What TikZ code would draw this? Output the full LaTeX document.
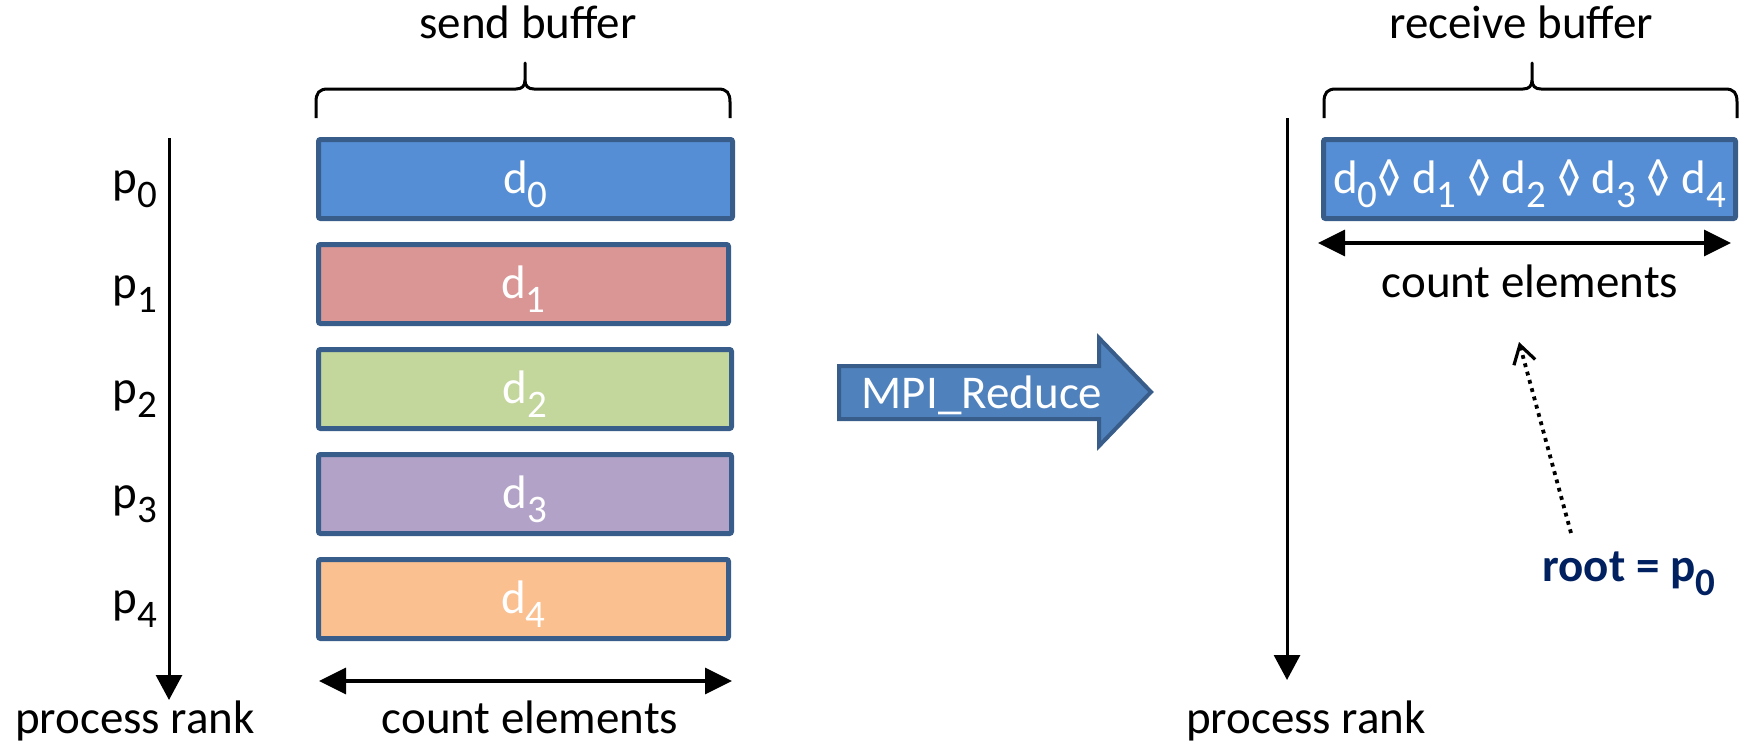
\documentclass[tikz,border=0pt]{standalone}
\usepackage{fontspec}
\setmainfont{Carlito}
\usetikzlibrary{arrows.meta}

\definecolor{edgeblue}{HTML}{385D8A}
\definecolor{fillblue}{HTML}{558ED5}
\definecolor{arrowblue}{HTML}{4F81BD}
\definecolor{fillred}{HTML}{D99694}
\definecolor{fillgreen}{HTML}{C3D69B}
\definecolor{fillpurple}{HTML}{B3A2C7}
\definecolor{fillorange}{HTML}{FAC090}
\definecolor{rootnavy}{HTML}{002060}

% lowered index digit
\newcommand\idx[1]{\raisebox{-0.3em}{\fontsize{19.5}{20}\selectfont #1}}

\begin{document}
\begin{tikzpicture}[x=0.5pt,y=-0.5pt,
  lbl/.style={font=\fontsize{23.5}{28}\selectfont, inner sep=0pt},
  buf/.style={draw=edgeblue, line width=2.5pt, rounded corners=1pt, inner sep=0pt,
    text=white, font=\fontsize{23.5}{28}\selectfont,
    minimum height=39.5pt, text height=16pt, text depth=2pt},
  axis/.style={line width=1.5pt, -{Triangle[length=12.5pt,width=13pt]}},
  span/.style={line width=1.75pt, {Triangle[length=13.5pt,width=13pt]}-{Triangle[length=13.5pt,width=13pt]}},
  bracket/.style={line width=1.5pt, line join=round},
  rootptr/.style={line width=1.9pt, dash pattern=on 1.9pt off 2.4pt,
    -{Straight Barb[length=9pt,width=11pt,line width=1.6pt]}},
]
\useasboundingbox (0,0) rectangle (1743,744);

% ---------- send side ----------
\node[lbl, anchor=base] (sendlbl) at (528,39) {send buffer};
\draw[bracket] (316,118) -- (316,102) .. controls (316,93) and (319,89) .. (328,89)
  -- (516,89) .. controls (522,89) and (525,86) .. (525,80) -- (525,63)
  -- (525,80) .. controls (525,86) and (528,89) .. (534,89)
  -- (718,89) .. controls (727,89) and (730,93) .. (730,102) -- (730,118);

\node[buf, fill=fillblue,   minimum width=207pt]   (d0) at (525.5,179) {d\idx{0}};
\node[buf, fill=fillred,    minimum width=205pt]   (d1) at (523.5,284) {d\idx{1}};
\node[buf, fill=fillgreen,  minimum width=206.5pt] (d2) at (525,389)   {d\idx{2}};
\node[buf, fill=fillpurple, minimum width=206.5pt] (d3) at (525,494)   {d\idx{3}};
\node[buf, fill=fillorange, minimum width=205pt]   (d4) at (523.5,599) {d\idx{4}};

\node[lbl, anchor=base west] (p0) at (112,193) {p\idx{0}};
\node[lbl, anchor=base west] (p1) at (112,298) {p\idx{1}};
\node[lbl, anchor=base west] (p2) at (112,403) {p\idx{2}};
\node[lbl, anchor=base west] (p3) at (112,508) {p\idx{3}};
\node[lbl, anchor=base west] (p4) at (112,613) {p\idx{4}};

\coordinate (ranktopL) at (169,138);
\coordinate (rankendL) at (169,700);
\draw[axis] (ranktopL) -- (rankendL);
\node[lbl, anchor=base] (rankL) at (135,733) {process rank};

\coordinate (cntL1) at (319,681);
\coordinate (cntL2) at (732,681);
\draw[span] (cntL1) -- (cntL2);
\node[lbl, anchor=base] (countL) at (530,733) {count elements};

% ---------- operation ----------
\draw[draw=edgeblue, fill=arrowblue, line width=2pt, line join=miter]
  (839,366) -- (1099,366) -- (1099,338) -- (1151,392) -- (1099,446) -- (1099,419) -- (839,419) -- cycle;
\node[lbl, anchor=base, text=white] (reduce) at (982,408) {MPI\_Reduce};

% ---------- receive side ----------
\node[lbl, anchor=base] (recvlbl) at (1521,39) {receive buffer};
\draw[bracket] (1324,118) -- (1324,102) .. controls (1324,93) and (1327,89) .. (1336,89)
  -- (1523,89) .. controls (1529,89) and (1532,86) .. (1532,80) -- (1532,63)
  -- (1532,80) .. controls (1532,86) and (1535,89) .. (1541,89)
  -- (1725,89) .. controls (1734,89) and (1737,93) .. (1737,102) -- (1737,118);

\node[buf, fill=fillblue, minimum width=206pt] (result) at (1529.5,179)
  {d\idx{0}◊ d\idx{1} ◊ d\idx{2} ◊ d\idx{3} ◊ d\idx{4}};

\coordinate (cntR1) at (1318,243);
\coordinate (cntR2) at (1731,243);
\draw[span] (cntR1) -- (cntR2);
\node[lbl, anchor=base] (countR) at (1530,297) {count elements};

\coordinate (ranktopR) at (1287,118);
\coordinate (rankendR) at (1287,680);
\draw[axis] (ranktopR) -- (rankendR);
\node[lbl, anchor=base] (rankR) at (1306,733) {process rank};

\node[lbl, anchor=base west, text=rootnavy, font=\fontsize{23.5}{28}\selectfont\bfseries]
  (root) at (1542,581) {root = p\idx{0}};
\coordinate (rootfrom) at (1571,533);
\coordinate (rootto) at (1519,342);
\draw[rootptr] (rootfrom) -- (rootto);
\end{tikzpicture}
\end{document}
